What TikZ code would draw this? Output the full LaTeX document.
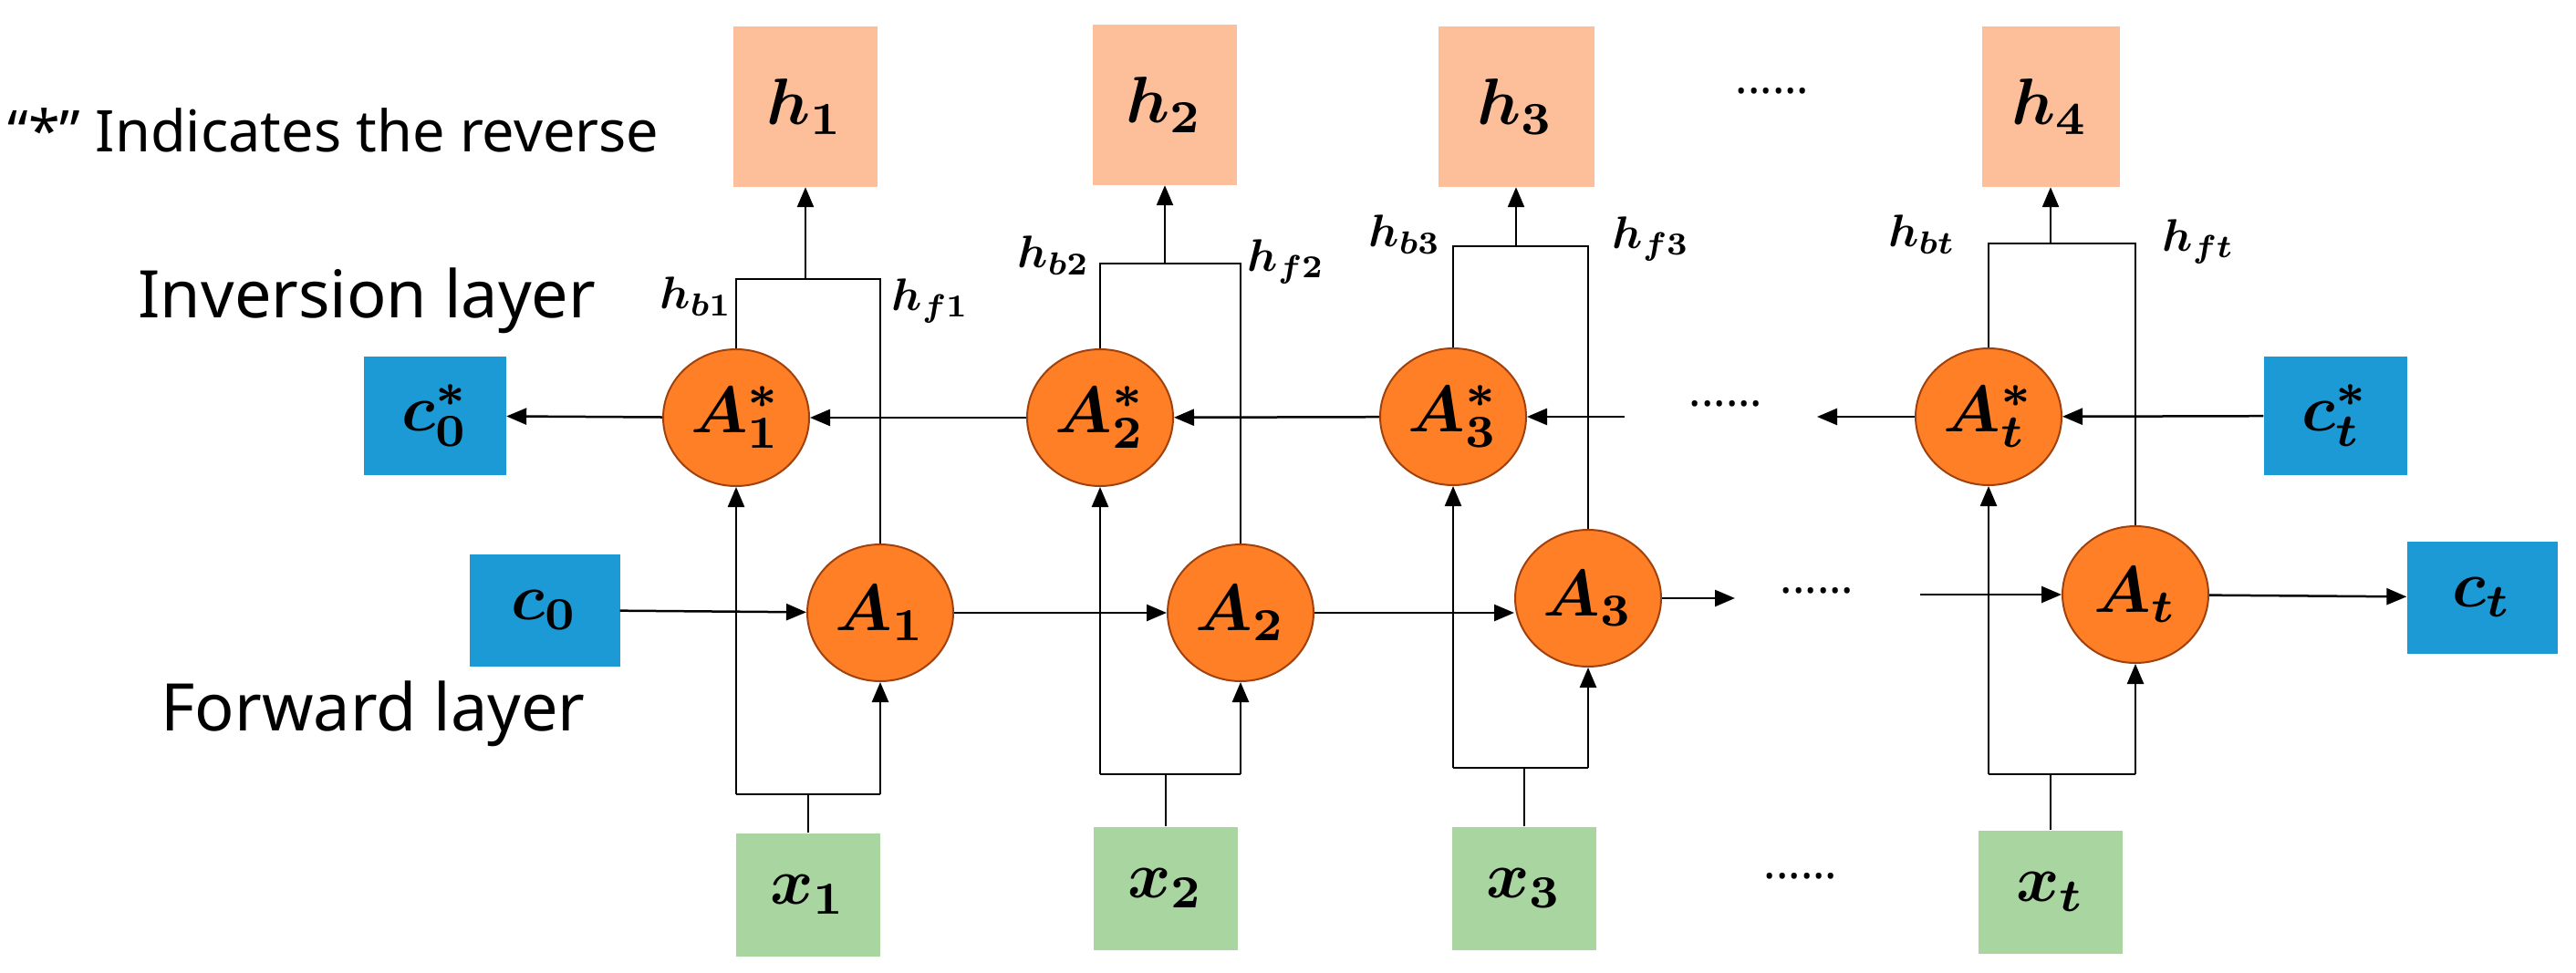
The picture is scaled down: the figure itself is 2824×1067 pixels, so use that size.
\documentclass[tikz,border=0pt]{standalone}
\usepackage{amsmath,bm,graphicx}
\usepackage{fontspec}
\setmainfont{Noto Sans}
\usetikzlibrary{shapes.geometric,arrows.meta}
\definecolor{orf}{HTML}{FF7F27}
\definecolor{ord}{HTML}{A0410D}
\definecolor{blu}{HTML}{1C9AD6}
\definecolor{pch}{HTML}{FDBF99}
\definecolor{grn}{HTML}{A9D5A0}
\newcommand\BL[1]{\scalebox{7.2}{$\bm{#1}$}}
\newcommand\SL[1]{\scalebox{5}{$\bm{#1}$}}
\begin{document}
\begin{tikzpicture}[x=1pt,y=-1pt,
  cell/.style={ellipse,draw=ord,line width=2pt,fill=orf,minimum width=160pt,minimum height=150pt,inner sep=0pt},
  box/.style={rectangle,inner sep=0pt,minimum width=158pt},
  hbox/.style={box,fill=pch,minimum height=176pt},
  xbox/.style={box,fill=grn,minimum height=135pt},
  cbox/.style={box,fill=blu,minimum height=127pt},
  lab/.style={font=\fontsize{72}{72}\selectfont},
  ln/.style={line width=2.5pt},
  ar/.style={ln,-{Triangle[length=22pt,width=18pt]}},
  dots/.style={font=\fontsize{50}{50}\selectfont}]
\useasboundingbox (0,0) rectangle (2824,1067);
% labels
\node[font=\fontsize{63}{63}\selectfont,anchor=west] (t1) at (5,143) {“*” Indicates the reverse};
\node[lab,anchor=west] (t2) at (148,330) {Inversion layer};
\node[lab,anchor=west] (t3) at (173,783) {Forward layer};
% boxes
\node[hbox] (h1) at (883,117) {\BL{h_1}};
\node[hbox] (h2) at (1277,115) {\BL{h_2}};
\node[hbox,minimum width=171pt] (h3) at (1662,117) {\BL{h_3}};
\node[hbox,minimum width=151pt] (h4) at (2248,117) {\BL{h_4}};
\node[xbox] (x1) at (886,981) {\BL{x_1}};
\node[xbox] (x2) at (1278,974) {\BL{x_2}};
\node[xbox] (x3) at (1671,974) {\BL{x_3}};
\node[xbox] (x4) at (2248,978) {\BL{x_t}};
\node[cbox,minimum width=156pt,minimum height=130pt] (c0s) at (477,456) {\BL{c_0^*}};
\node[cbox,minimum width=165pt,minimum height=123pt] (c0) at (597,669) {\BL{c_0}};
\node[cbox,minimum width=157pt,minimum height=130pt] (cts) at (2560,456) {\BL{c_t^*}};
\node[cbox,minimum width=165pt,minimum height=123pt] (ct) at (2721,655) {\BL{c_t}};
% cells
\node[cell] (As1) at (807,458) {\BL{A_1^*}};
\node[cell] (As2) at (1206,458) {\BL{A_2^*}};
\node[cell] (As3) at (1593,457) {\BL{A_3^*}};
\node[cell] (As4) at (2180,457) {\BL{A_t^*}};
\node[cell] (A1) at (965,672) {\BL{A_1}};
\node[cell] (A2) at (1360,672) {\BL{A_2}};
\node[cell] (A3) at (1741,656) {\BL{A_3}};
\node[cell] (A4) at (2341,652) {\BL{A_t}};
% dots
\node[dots] (d1) at (1943,100) {......};
\node[dots] (d2) at (1892,443) {......};
\node[dots] (d3) at (1992,648) {......};
\node[dots] (d4) at (1974,961) {......};
\coordinate (f3) at (1902,656);
\coordinate (f4) at (2105,652);
\coordinate (r4) at (1992,457);
\coordinate (r3) at (1781,457);
% horizontal connectors
\draw[ar] (c0) -- (A1);
\draw[ar] (A1) -- (A2);
\draw[ar] (A2) -- (A3.west |- A2.west);
\draw[ar] (A3) -- (f3);
\draw[ar] (f4) -- (A4);
\draw[ar] (A4) -- (ct);
\draw[ar] (cts) -- (As4);
\draw[ar] (As4) -- (r4);
\draw[ar] (r3) -- (As3);
\draw[ar] (As3) -- (As2);
\draw[ar] (As2) -- (As1);
\draw[ar] (As1) -- (c0s);
% columns
\foreach \i/\yt/\yb in {1/306/871, 2/289/849, 3/270/842, 4/267/849}{
  \draw[ln] (As\i.north) -- (As\i.north |- 0,\yt) -- (A\i.north |- 0,\yt) -- (A\i.north);
  \draw[ar] (h\i.south |- 0,\yt) -- (h\i.south);
  \draw[ln] (x\i.north) -- (x\i.north |- 0,\yb);
  \draw[ar] (As\i.south |- 0,\yb) -- (As\i.south);
  \draw[ar] (A\i.south |- 0,\yb) -- (A\i.south);
  \draw[ln] (As\i.south |- 0,\yb) -- (A\i.south |- 0,\yb);
}
% h labels
\node (lb1) at (763,325) {\SL{h_{b1}}};
\node (lf1) at (1020,330) {\SL{h_{f1}}};
\node (lb2) at (1155,280) {\SL{h_{b2}}};
\node (lf2) at (1410,287) {\SL{h_{f2}}};
\node (lb3) at (1540,257) {\SL{h_{b3}}};
\node (lf3) at (1810,262) {\SL{h_{f3}}};
\node (lb4) at (2107,257) {\SL{h_{bt}}};
\node (lf4) at (2410,265) {\SL{h_{ft}}};
\end{tikzpicture}
\end{document}
